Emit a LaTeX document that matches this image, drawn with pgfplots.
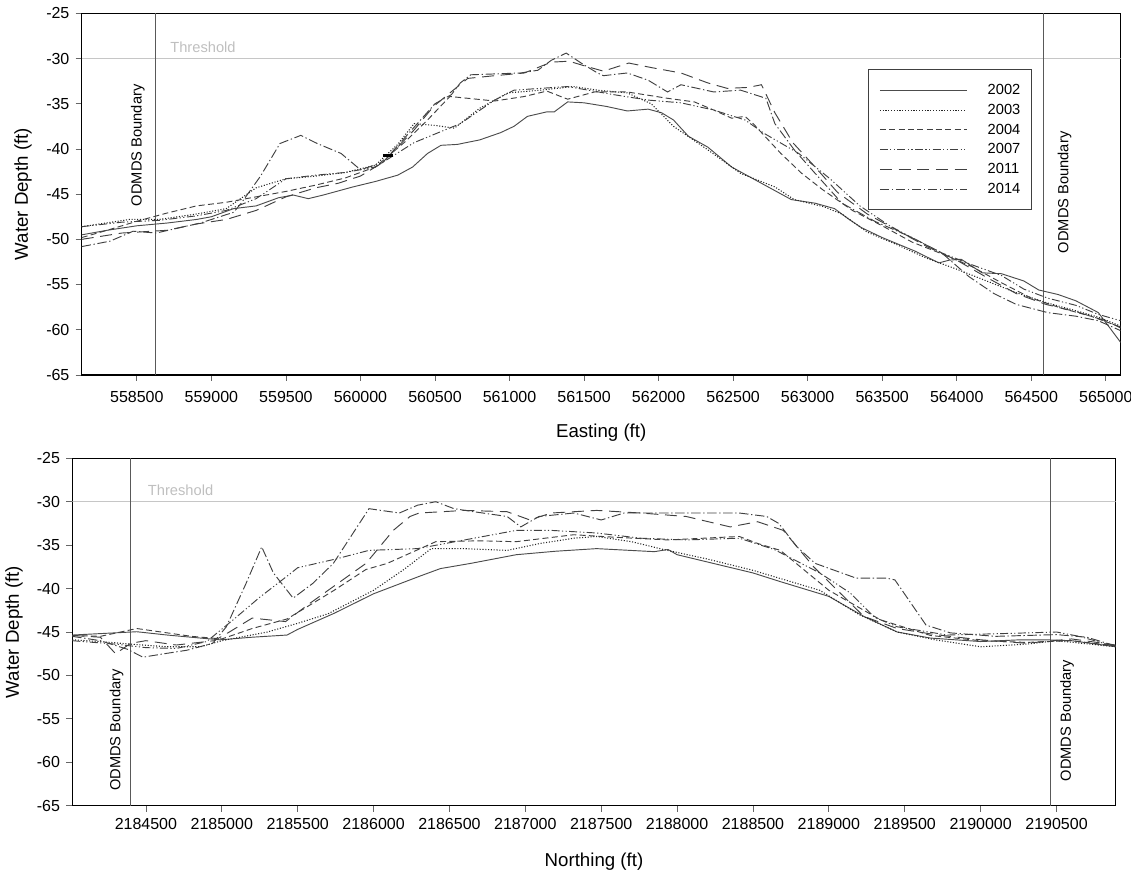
\documentclass[border=0pt]{standalone}
\usepackage{fontspec}
\setmainfont{Liberation Sans}
\usepackage{pgfplots}
\pgfplotsset{compat=1.18}
\pgfplotsset{
  base/.style={
    scale only axis,
    axis line style={black, line width=0.8pt},
    tick align=outside,
    xtick pos=bottom, ytick pos=left,
    major tick length=4.5pt,
    tick style={black!60, line width=0.6pt},
    ymin=-65, ymax=-25, ytick={-65,-60,-55,-50,-45,-40,-35,-30,-25},
    scaled ticks=false,
    /pgf/number format/assume math mode=true,
    /pgf/number format/fixed,
    /pgf/number format/precision=0,
    /pgf/number format/1000 sep={},
    tick label style={font=\fontsize{12}{14}\selectfont},
    yticklabel style={xshift=-1.2pt},
    label style={font=\fontsize{14}{16}\selectfont},
  },
  s2002/.style={black!70, line width=0.7pt},
  s2003/.style={black!85, line width=0.8pt, dash pattern=on 0.8pt off 1.3pt},
  s2004/.style={black!75, line width=0.7pt, dash pattern=on 4.5pt off 2.5pt},
  s2007/.style={black!75, line width=0.7pt, dash pattern=on 6pt off 1.8pt on 0.9pt off 1.8pt on 0.9pt off 1.8pt},
  s2011/.style={black!75, line width=0.7pt, dash pattern=on 9pt off 5pt},
  s2014/.style={black!75, line width=0.7pt, dash pattern=on 7pt off 2pt on 1pt off 2pt},
}
\begin{document}
\begin{tikzpicture}
\useasboundingbox (0,0) rectangle (848.25pt,658.5pt);
% ---------------- top: Easting ----------------
\begin{axis}[base,
  at={(61.275pt,377.25pt)}, anchor=south west,
  width=779.25pt, height=271.275pt,
  xmin=558130, xmax=565100,
  xtick={558500,559000,559500,560000,560500,561000,561500,562000,562500,563000,563500,564000,564500,565000},
  xticklabel style={yshift=-4.5pt},
  xlabel={Easting (ft)}, ylabel={Water Depth (ft)},
  xlabel style={at={(axis description cs:0.5,-0.16)}, anchor=center},
  ylabel style={at={(axis description cs:-0.0565,0.5)}, anchor=center},
  legend style={at={(rel axis cs:0.757,0.845)}, anchor=north west, draw=black!75, line width=0.6pt,
    font=\fontsize{11}{13}\selectfont, inner xsep=8pt, inner ysep=11pt, row sep=5.6pt,
    nodes={inner sep=0pt}},
  legend cell align=left,
  legend image code/.code={\draw[#1] (0pt,0pt) -- (65pt,0pt); \path (0pt,0pt) (80.5pt,0pt);},
]
\addplot[gray!45, line width=0.8pt, forget plot] coordinates {(558130,-30) (565100,-30)};
\addplot[black!65, line width=0.8pt, forget plot] coordinates {(558626,-65) (558626,-25)};
\addplot[black!65, line width=0.8pt, forget plot] coordinates {(564583,-65) (564583,-25)};
\node[anchor=west, inner sep=0pt, text=gray!50, font=\fontsize{11}{13}\selectfont] at (axis cs:558723,-28.8) {Threshold};
\node[rotate=90, inner sep=0pt, font=\fontsize{11}{13}\selectfont] at (axis cs:558506,-39.6) {ODMDS Boundary};
\node[rotate=90, inner sep=0pt, font=\fontsize{11}{13}\selectfont] at (axis cs:564724,-44.8) {ODMDS Boundary};

\addplot[s2002] coordinates {
(558130,-49.5) (558300,-49.0) (558500,-48.5) (558700,-48.2) (558900,-47.8) (559000,-47.5)
(559150,-46.6) (559300,-46.3) (559450,-45.4) (559550,-45.1) (559650,-45.5) (559750,-45.1)
(559950,-44.2) (560100,-43.6) (560250,-42.9) (560350,-42.0) (560450,-40.5) (560540,-39.6)
(560650,-39.5) (560800,-39.0) (560940,-38.2) (561030,-37.5) (561120,-36.4) (561250,-35.9)
(561300,-35.9) (561390,-34.8) (561500,-34.9) (561650,-35.3) (561790,-35.8) (561930,-35.6)
(562020,-36.0) (562100,-36.8) (562200,-38.6) (562330,-39.8) (562490,-42.0) (562690,-43.8)
(562890,-45.6) (563050,-46.0) (563180,-46.6) (563270,-47.7) (563360,-48.7) (563500,-49.8)
(563720,-51.3) (563880,-52.6) (563950,-52.3) (564030,-52.2) (564170,-53.7) (564300,-53.8)
(564450,-54.6) (564550,-55.6) (564680,-56.1) (564800,-56.8) (564950,-58.1) (565100,-61.4)};
\addlegendentry{2002}
\addplot[s2003] coordinates {
(558130,-48.6) (558450,-47.8) (558650,-47.8) (558900,-47.2) (559100,-46.6) (559300,-44.3)
(559500,-43.3) (559700,-43.0) (559900,-42.6) (560100,-41.8) (560250,-39.5) (560360,-37.2)
(560500,-37.4) (560630,-37.7) (560800,-35.5) (560990,-33.8) (561210,-33.5) (561430,-33.1)
(561590,-33.5) (561790,-33.8) (561950,-35.0) (562100,-37.5) (562330,-40.1) (562550,-42.7)
(562780,-44.2) (562910,-45.6) (563110,-46.4) (563230,-47.2) (563400,-49.2) (563600,-50.6)
(563800,-52.1) (564000,-53.3) (564200,-54.6) (564400,-55.9) (564600,-57.0) (564800,-57.9)
(564950,-58.6) (565100,-59.6)};
\addlegendentry{2003}
\addplot[s2004] coordinates {
(558130,-49.8) (558300,-49.0) (558500,-48.0) (558700,-47.1) (558900,-46.3) (559100,-45.9)
(559300,-45.3) (559500,-44.7) (559700,-44.0) (559900,-43.2) (560100,-42.0) (560300,-39.2)
(560450,-36.8) (560600,-34.2) (560900,-34.7) (561100,-34.2) (561250,-33.6) (561390,-34.5)
(561570,-33.7) (561790,-33.7) (562060,-34.4) (562240,-34.8) (562370,-35.7) (562490,-36.6)
(562580,-36.4) (562640,-37.3) (562820,-40.5) (562960,-42.7) (563100,-44.5) (563300,-46.8)
(563500,-48.5) (563700,-50.3) (563900,-51.6) (564100,-53.0) (564300,-54.8) (564500,-56.5)
(564700,-57.6) (564900,-58.5) (565100,-59.7)};
\addlegendentry{2004}
\addplot[s2007] coordinates {
(558130,-48.6) (558400,-48.1) (558650,-47.9) (558900,-47.4) (559100,-46.8) (559300,-45.5)
(559500,-43.3) (559700,-42.9) (559900,-42.6) (560100,-42.0) (560360,-39.3) (560670,-37.2)
(560900,-34.6) (561030,-33.5) (561390,-33.1) (561700,-34.0) (561930,-34.6) (562150,-34.9)
(562370,-35.7) (562580,-36.8) (562710,-38.3) (562940,-40.5) (563150,-43.3) (563350,-46.3)
(563550,-48.5) (563720,-50.0) (563900,-51.5) (564100,-52.8) (564300,-54.0) (564450,-55.5)
(564610,-56.5) (564800,-57.3) (564950,-58.3) (565100,-59.0)};
\addlegendentry{2007}
\addplot[s2011] coordinates {
(558130,-50.0) (558400,-49.3) (558700,-49.0) (558900,-48.3) (559100,-47.8) (559300,-46.8)
(559500,-45.3) (559700,-44.3) (559850,-43.8) (560000,-43.0) (560150,-41.5) (560360,-37.9)
(560490,-35.3) (560630,-33.4) (560720,-32.2) (560900,-31.9) (561100,-31.6) (561280,-30.4)
(561400,-30.3) (561500,-30.8) (561630,-31.4) (561800,-30.5) (561950,-31.0) (562150,-31.6)
(562330,-32.7) (562460,-33.3) (562600,-33.2) (562690,-32.9) (562780,-36.0) (562900,-39.3)
(563050,-42.0) (563200,-44.8) (563400,-47.2) (563600,-49.0) (563800,-50.8) (564000,-52.3)
(564200,-54.2) (564400,-56.0) (564600,-57.2) (564800,-58.0) (565000,-59.0) (565100,-59.8)};
\addlegendentry{2011}
\addplot[s2014] coordinates {
(558130,-50.8) (558320,-50.2) (558475,-49.1) (558630,-49.3) (558925,-48.2) (559150,-47.0)
(559200,-46.0) (559330,-43.0) (559460,-39.4) (559600,-38.5) (559710,-39.4) (559870,-40.5)
(560000,-42.3) (560150,-41.5) (560360,-37.6) (560500,-35.0) (560610,-34.0) (560670,-32.7)
(560740,-31.8) (561075,-31.6) (561190,-31.3) (561280,-30.2) (561380,-29.4) (561480,-30.5)
(561590,-31.6) (561630,-31.9) (561790,-31.6) (561930,-32.4) (562060,-33.7) (562150,-32.9)
(562370,-33.7) (562550,-33.5) (562720,-34.4) (562780,-37.2) (562910,-40.1) (563050,-42.7)
(563230,-46.0) (563450,-48.0) (563700,-49.8) (563900,-51.5) (564080,-54.1) (564250,-56.0)
(564400,-57.2) (564610,-58.1) (564800,-58.5) (564950,-59.0) (565100,-60.1)};
\addlegendentry{2014}
\addplot[black, line width=2.2pt, forget plot] coordinates {(560150,-40.75) (560215,-40.75)};
\end{axis}
% ---------------- bottom: Northing ----------------
\begin{axis}[base,
  at={(54.225pt,54.225pt)}, anchor=south west,
  width=782.55pt, height=260.55pt,
  xmin=2184015, xmax=2190890,
  xtick={2184500,2185000,2185500,2186000,2186500,2187000,2187500,2188000,2188500,2189000,2189500,2190000,2190500},
  xticklabel style={yshift=-1.5pt},
  xlabel={Northing (ft)}, ylabel={Water Depth (ft)},
  xlabel style={at={(axis description cs:0.5,-0.162)}, anchor=center},
  ylabel style={at={(axis description cs:-0.0559,0.5)}, anchor=center},
]
\addplot[gray!45, line width=0.8pt] coordinates {(2184015,-30) (2190890,-30)};
\addplot[black!65, line width=0.8pt] coordinates {(2184401,-65) (2184401,-25)};
\addplot[black!65, line width=0.8pt] coordinates {(2190460,-65) (2190460,-25)};
\node[anchor=west, inner sep=0pt, text=gray!50, font=\fontsize{11}{13}\selectfont] at (axis cs:2184512,-28.73) {Threshold};
\node[rotate=90, inner sep=0pt, font=\fontsize{11}{13}\selectfont] at (axis cs:2184307,-56.3) {ODMDS Boundary};
\node[rotate=90, inner sep=0pt, font=\fontsize{11}{13}\selectfont] at (axis cs:2190570,-55.2) {ODMDS Boundary};

\addplot[s2002] coordinates {
(2184015,-45.35) (2184440,-44.97) (2184640,-45.35) (2184860,-45.7) (2184990,-45.9) (2185200,-45.6)
(2185430,-45.35) (2185500,-44.7) (2185740,-42.85) (2186000,-40.6) (2186300,-38.6) (2186440,-37.7)
(2186640,-37.1) (2186940,-36.1) (2187200,-35.7) (2187470,-35.4) (2187850,-35.75) (2187940,-35.5)
(2188000,-36.1) (2188500,-38.2) (2188680,-39.2) (2189000,-40.9) (2189230,-43.2) (2189450,-45.0)
(2189670,-45.7) (2190000,-46.1) (2190260,-45.9) (2190430,-45.9) (2190600,-46.0) (2190890,-46.7)};
\addplot[s2003] coordinates {
(2184015,-45.9) (2184200,-46.1) (2184400,-46.4) (2184640,-46.7) (2184860,-46.7) (2185000,-46.0)
(2185300,-45.0) (2185500,-44.0) (2185700,-42.9) (2186000,-40.2) (2186200,-37.8) (2186380,-35.4)
(2186590,-35.4) (2186880,-35.6) (2187100,-34.8) (2187320,-34.2) (2187470,-34.0) (2187700,-34.6)
(2187910,-35.5) (2188200,-36.6) (2188500,-37.9) (2188940,-40.2) (2189200,-43.0) (2189450,-45.0)
(2189700,-45.9) (2190000,-46.7) (2190300,-46.4) (2190500,-46.0) (2190890,-46.7)};
\addplot[s2004] coordinates {
(2184015,-45.4) (2184200,-45.5) (2184440,-44.6) (2184640,-45.1) (2184800,-45.5) (2185000,-45.8)
(2185200,-44.6) (2185430,-43.5) (2185740,-40.2) (2185950,-37.8) (2186090,-37.1) (2186410,-34.6)
(2186700,-34.5) (2186940,-34.6) (2187320,-33.8) (2187600,-34.1) (2187940,-34.4) (2188410,-34.0)
(2188530,-34.8) (2188680,-35.6) (2189000,-40.2) (2189340,-43.6) (2189670,-45.4) (2190000,-46.0)
(2190300,-46.2) (2190600,-46.0) (2190890,-46.6)};
\addplot[s2007] coordinates {
(2184015,-46.0) (2184300,-46.4) (2184500,-46.8) (2184700,-46.9) (2184900,-46.1) (2185075,-43.6)
(2185250,-41.0) (2185450,-38.3) (2185500,-37.6) (2185750,-36.6) (2185970,-35.6) (2186290,-35.4)
(2186600,-34.4) (2186940,-33.3) (2187170,-33.3) (2187470,-33.6) (2187760,-34.2) (2188060,-34.4)
(2188410,-34.2) (2188640,-35.5) (2188940,-38.2) (2189140,-40.5) (2189300,-43.3) (2189450,-44.4)
(2189780,-45.35) (2190210,-45.15) (2190500,-45.0) (2190650,-45.5) (2190890,-46.7)};
\addplot[s2011] coordinates {
(2184015,-45.4) (2184200,-45.6) (2184300,-47.5) (2184400,-46.3) (2184500,-46.0) (2184700,-46.5)
(2184950,-46.0) (2185050,-45.0) (2185200,-43.4) (2185420,-43.8) (2185580,-41.7) (2185950,-37.1)
(2186130,-33.3) (2186240,-31.7) (2186300,-31.3) (2186600,-31.0) (2186880,-31.15) (2187030,-32.1)
(2187170,-31.3) (2187470,-31.0) (2187760,-31.3) (2188060,-31.7) (2188350,-32.9) (2188530,-32.3)
(2188700,-33.3) (2188900,-37.5) (2189230,-43.2) (2189450,-44.6) (2189700,-45.3) (2190000,-45.9)
(2190300,-46.3) (2190600,-45.8) (2190890,-46.5)};
\addplot[s2014] coordinates {
(2184015,-45.5) (2184200,-46.0) (2184380,-47.0) (2184480,-47.9) (2184640,-47.45) (2184770,-47.1)
(2184940,-46.3) (2185030,-44.4) (2185160,-39.4) (2185263,-35.2) (2185340,-38.2) (2185470,-41.1)
(2185600,-39.4) (2185735,-37.1) (2185970,-30.8) (2186170,-31.3) (2186290,-30.4) (2186410,-30.0)
(2186530,-30.8) (2186640,-31.1) (2186880,-31.7) (2186970,-32.9) (2187090,-31.7) (2187320,-31.3)
(2187500,-32.1) (2187650,-31.3) (2188060,-31.3) (2188410,-31.3) (2188590,-31.7) (2188670,-32.5)
(2188790,-35.2) (2188910,-37.1) (2189180,-38.8) (2189380,-38.8) (2189435,-39.0) (2189640,-44.2)
(2189800,-45.1) (2190100,-45.5) (2190500,-45.3) (2190700,-45.6) (2190890,-46.6)};
\end{axis}
\end{tikzpicture}
\end{document}
